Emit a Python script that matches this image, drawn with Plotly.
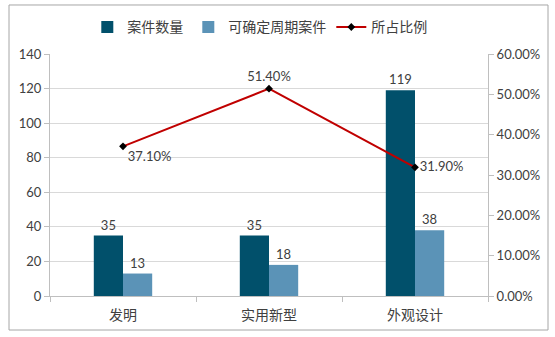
import plotly.graph_objects as go

categories = ["发明", "实用新型", "外观设计"]
case_counts = [35, 35, 119]
dated_cases = [13, 18, 38]
share = [0.371, 0.514, 0.319]

series_names = ["案件数量", "可确定周期案件", "所占比例"]
left_ticks = [0, 20, 40, 60, 80, 100, 120, 140]
right_ticks = [0, 0.1, 0.2, 0.3, 0.4, 0.5, 0.6]

FONT = "Lato, 'Noto Sans CJK SC', sans-serif"
TXT = "#404040"

fig = go.Figure()
fig.add_trace(go.Bar(
    x=categories, y=case_counts, name=series_names[0],
    marker=dict(color="#01506b", line=dict(width=0)),
    text=[str(v) for v in case_counts], textposition="outside",
    textfont=dict(size=13, color=TXT, family=FONT), cliponaxis=False,
))
fig.add_trace(go.Bar(
    x=categories, y=dated_cases, name=series_names[1],
    marker=dict(color="#5b93b7", line=dict(width=0)),
    text=[str(v) for v in dated_cases], textposition="outside",
    textfont=dict(size=13, color=TXT, family=FONT), cliponaxis=False,
))
fig.add_trace(go.Scatter(
    x=categories, y=share, name=series_names[2], yaxis="y2",
    mode="lines+markers+text",
    line=dict(color="#c00000", width=2),
    marker=dict(symbol="diamond", size=6, color="black"),
    text=[f"{v:.2%}" for v in share],
    textposition=["bottom right", "top center", "middle right"],
    textfont=dict(size=13, color=TXT, family=FONT), cliponaxis=False,
))

fig.update_layout(
    width=555, height=337,
    margin=dict(l=50, r=67, t=54, b=41, autoexpand=False),
    paper_bgcolor="white", plot_bgcolor="white",
    font=dict(family=FONT, size=13, color=TXT),
    barmode="group", bargap=0.6, bargroupgap=0,
    uniformtext=dict(minsize=13, mode="show"),
    showlegend=True,
    legend=dict(orientation="h", x=0.479, xanchor="center",
                y=1.11, yanchor="middle", font=dict(size=14, color=TXT),
                traceorder="normal", bgcolor="rgba(0,0,0,0)"),
    xaxis=dict(type="category", showline=True, linecolor="#bfbfbf",
               ticks="outside", tickson="boundaries", ticklen=5,
               tickcolor="#bfbfbf", tickfont=dict(size=14, color=TXT),
               ticklabelstandoff=6, tickangle=0, showgrid=False),
    yaxis=dict(range=[0, 140], tickvals=left_ticks, showline=True,
               linecolor="#bfbfbf", ticks="outside", ticklen=5,
               tickcolor="#bfbfbf", gridcolor="#d9d9d9", gridwidth=1,
               tickfont=dict(size=13, color=TXT), zeroline=False),
    yaxis2=dict(range=[0, 0.6], tickvals=right_ticks, tickformat=".2%",
                overlaying="y", side="right", showline=True,
                linecolor="#bfbfbf", ticks="outside", ticklen=5,
                tickcolor="#bfbfbf", showgrid=False, zeroline=False,
                tickfont=dict(size=13, color=TXT)),
    shapes=[dict(type="rect", xref="paper", yref="paper",
                 x0=-0.0936, x1=1.137, y0=-0.1405, y1=1.2025,
                 line=dict(color="#a6a6a6", width=1), layer="below")],
)

fig.write_html("out.html")
